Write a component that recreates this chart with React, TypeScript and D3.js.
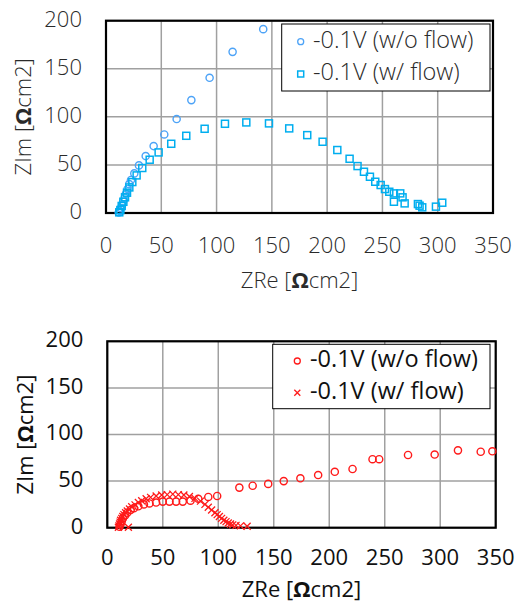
import React from 'react';
import * as d3 from 'd3';

// tick values shared by both panels
const xTicks = [0, 50, 100, 150, 200, 250, 300, 350];
const yTicks = [0, 50, 100, 150, 200];

// top panel: blue series
const blueNoFlowX = [11.5, 12.5, 13.5, 14.5, 15.5, 17, 18, 19.5, 21, 22.6, 25.6, 29.8, 35.9, 43.1, 52.7, 63.9, 77.2, 93.7, 114.5, 142.2];
const blueNoFlowY = [0.5, 2, 5, 8, 12, 16, 20, 25, 30, 34.3, 41.2, 49.5, 59.2, 69.6, 81.7, 97.7, 117.4, 140.6, 167.6, 191.2];
const blueFlowX = [12, 13, 14.2, 15.7, 17.2, 19, 21.1, 23.8, 27.7, 32.8, 39.5, 47.6, 59, 72.6, 89.2, 107.6, 126.9, 147.4, 165.7, 182, 195.9, 209.2, 220.3, 227.5, 233.3, 238.7, 243.5, 248.4, 252.3, 256.2, 260.4, 266.1, 268.2, 260.4, 270.1, 282.1, 283.6, 286, 298.4, 304.1];
const blueFlowY = [0.7, 3.1, 7.3, 11.7, 16.3, 21.1, 26.6, 32.2, 39.1, 46.8, 55.4, 63, 72, 80.3, 87.6, 92.8, 94.2, 93.2, 88, 81, 74.1, 65.5, 56.4, 48.8, 42.9, 37.7, 32.5, 29.1, 24.9, 22.1, 20.4, 20.4, 16.3, 11.7, 10, 9.3, 7.6, 5.9, 6.6, 10.7];

// bottom panel: red series
const redNoFlowX = [11, 12, 13, 14, 16, 18, 21, 24, 28, 33, 38, 44, 50, 56, 62, 68, 75, 82, 91, 99, 119, 131, 145, 159, 174, 190, 205, 221, 239, 245, 271, 295, 316, 336.5, 347];
const redNoFlowY = [1, 4, 7, 10, 13, 16, 19, 21, 23, 25, 26, 27, 28, 28, 28, 28, 29, 31, 33, 34, 43, 45, 47, 50, 53, 56.5, 60, 63, 73.5, 73.5, 78, 78.5, 83, 81.5, 82];
const redFlowX = [10, 10.5, 11, 11.5, 12, 13, 14, 15, 16.5, 18, 20, 22, 25, 28, 31, 35, 39, 44, 49, 54, 59, 64, 69, 74, 79, 84, 88, 91, 94, 97, 99, 101, 103, 105, 107, 109, 111, 113, 116, 120, 126, 19];
const redFlowY = [0.5, 2, 4, 6, 8, 10, 12, 14, 16, 18, 20, 22.5, 24.5, 27, 29, 31, 32.5, 34, 35, 35.5, 36, 35.5, 35, 33.5, 31.5, 28.5, 25, 22, 19, 16, 14, 12, 10, 8, 6.5, 5, 4, 3, 2.5, 2, 1.5, 0.5];

const legendLabels = ['-0.1V (w/o flow)', '-0.1V (w/ flow)'];

const FONT = '"Open Sans", "Noto Sans", sans-serif';

const zip = (xs: number[], ys: number[]) => xs.map((x, i) => [x, ys[i]] as [number, number]);

type PanelProps = {
  left: number; top: number; right: number; bottom: number;
  a: [number, number][]; b: [number, number][];
  colorA: string; colorB: string;
  markerB: 'square' | 'cross';
  legend: { x0: number; y0: number; x1: number; y1: number; mx: number; tx: number; r1: number; r2: number };
  txt: string; weight: number;
  tickDy: number; labelDy: number; yLabelX: number;
};

const Panel = (p: PanelProps) => {
  const x = d3.scaleLinear().domain([0, 350]).range([p.left, p.right]);
  const y = d3.scaleLinear().domain([0, 200]).range([p.bottom, p.top]);
  const fs = 22;

  const drawB = (px: number, py: number, s: number, key: any) =>
    p.markerB === 'square' ? (
      <rect key={key} x={px - s / 2} y={py - s / 2} width={s} height={s} fill="none" stroke={p.colorB} strokeWidth={1.5} />
    ) : (
      <path key={key} d={`M${px - s / 2},${py - s / 2}L${px + s / 2},${py + s / 2}M${px - s / 2},${py + s / 2}L${px + s / 2},${py - s / 2}`} stroke={p.colorB} strokeWidth={1.3} />
    );

  return (
    <g fontFamily={FONT} fontWeight={p.weight}>
      {xTicks.map(t => (
        <line key={'gx' + t} x1={x(t)} x2={x(t)} y1={p.top} y2={p.bottom} stroke="#a0a0a0" strokeWidth={1.5} />
      ))}
      {yTicks.map(t => (
        <line key={'gy' + t} x1={p.left} x2={p.right} y1={y(t)} y2={y(t)} stroke="#a0a0a0" strokeWidth={1.5} />
      ))}
      <rect x={p.left} y={p.top} width={p.right - p.left} height={p.bottom - p.top} fill="none" stroke="#000" strokeWidth={2.2} />

      {p.a.map((d, i) => (
        <circle key={'a' + i} cx={x(d[0])} cy={y(d[1])} r={3.6} fill="none" stroke={p.colorA} strokeWidth={1.4} />
      ))}
      {p.b.map((d, i) => drawB(x(d[0]), y(d[1]), 7, 'b' + i))}

      {xTicks.map(t => (
        <text key={'tx' + t} x={x(t)} y={p.bottom + p.tickDy} textAnchor="middle" dominantBaseline="middle" fontSize={fs} fill={p.txt}>{t}</text>
      ))}
      {yTicks.map(t => (
        <text key={'ty' + t} x={p.left - 24} y={y(t)} textAnchor="end" dominantBaseline="middle" fontSize={fs} fill={p.txt}>{t}</text>
      ))}
      <text x={(p.left + p.right) / 2} y={p.bottom + p.labelDy} textAnchor="middle" dominantBaseline="middle" fontSize={fs} fill={p.txt}>
        ZRe [<tspan fontWeight={700}>Ω</tspan>cm2]
      </text>
      <text transform={`translate(${p.yLabelX},${(p.top + p.bottom) / 2}) rotate(-90)`} textAnchor="middle" dominantBaseline="middle" fontSize={fs} fill={p.txt}>
        ZIm [<tspan fontWeight={700}>Ω</tspan>cm2]
      </text>

      <rect x={p.legend.x0} y={p.legend.y0} width={p.legend.x1 - p.legend.x0} height={p.legend.y1 - p.legend.y0} fill="#fff" stroke="#000" strokeWidth={1} />
      <circle cx={p.legend.mx} cy={p.legend.r1} r={3} fill="none" stroke={p.colorA} strokeWidth={1.3} />
      {drawB(p.legend.mx, p.legend.r2, 6, 'lb')}
      {legendLabels.map((l, i) => (
        <text key={l} x={p.legend.tx} y={i === 0 ? p.legend.r1 : p.legend.r2} dominantBaseline="middle" fontSize={23.5} fill={p.txt}>{l}</text>
      ))}
    </g>
  );
};

export default function App() {
  return (
    <svg width={515} height={604} style={{ position: 'absolute', left: 0, top: 0, background: '#fff' }}>
      <Panel
        left={106} top={20.7} right={493} bottom={213}
        a={zip(blueNoFlowX, blueNoFlowY)} b={zip(blueFlowX, blueFlowY)}
        colorA="#4da3f7" colorB="#00aeef" markerB="square"
        legend={{ x0: 281.7, y0: 24, x1: 490, y1: 91, mx: 300.7, tx: 313, r1: 41.7, r2: 74 }}
        txt="#2a2a2a" weight={300} tickDy={34} labelDy={69} yLabelX={25}
      />
      <Panel
        left={107.3} top={341.3} right={495.7} bottom={527.7}
        a={zip(redNoFlowX, redNoFlowY)} b={zip(redFlowX, redFlowY)}
        colorA="#ff1a1a" colorB="#ff1a1a" markerB="cross"
        legend={{ x0: 272.7, y0: 344.3, x1: 490, y1: 408.7, mx: 297.3, tx: 310, r1: 361, r2: 392.7 }}
        txt="#111" weight={400} tickDy={31} labelDy={63} yLabelX={27}
      />
    </svg>
  );
}
